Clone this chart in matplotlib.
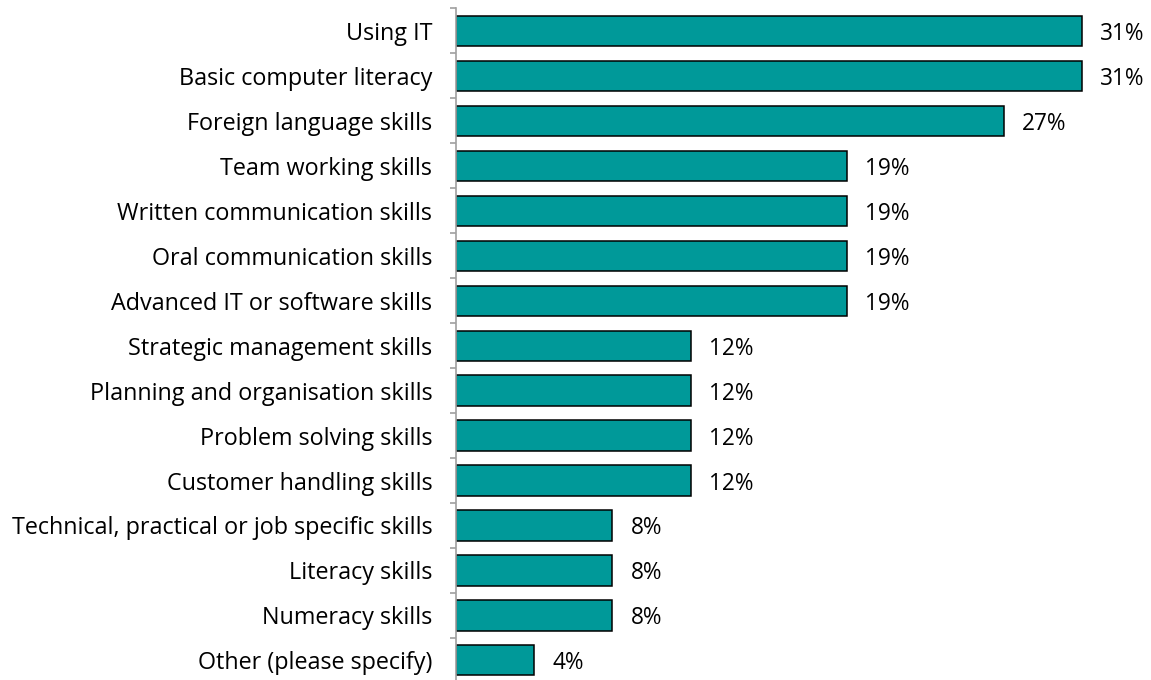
import matplotlib
matplotlib.use("Agg")
import matplotlib.pyplot as plt
import numpy as np

# Skills (top to bottom) and share of respondents, out of 26 answers
skills = [
    "Using IT",
    "Basic computer literacy",
    "Foreign language skills",
    "Team working skills",
    "Written communication skills",
    "Oral communication skills",
    "Advanced IT or software skills",
    "Strategic management skills",
    "Planning and organisation skills",
    "Problem solving skills",
    "Customer handling skills",
    "Technical, practical or job specific skills",
    "Literacy skills",
    "Numeracy skills",
    "Other (please specify)",
]
counts = [8, 8, 7, 5, 5, 5, 5, 3, 3, 3, 3, 2, 2, 2, 1]
total = 26
shares = [100 * c / total for c in counts]

plt.rcParams["font.family"] = ["Open Sans", "DejaVu Sans"]

fig = plt.figure(figsize=(11.51, 6.80), dpi=100)
ax = fig.add_axes([0.396, -0.0044, 0.604, 0.9926])

y = np.arange(len(skills))
ax.barh(y, shares, height=0.667, color="#009999", edgecolor="black", linewidth=1.1)

for yi, v in zip(y, shares):
    ax.annotate(f"{v:.0f}%", (v, yi), xytext=(13, 0), textcoords="offset points",
                va="center_baseline", ha="left", fontsize=16.3, color="black")

ax.set_xlim(0, 34.15)
ax.set_ylim(len(skills) - 0.5, -0.5)
ax.set_yticks(y)
ax.set_yticklabels(skills, fontsize=16.8, va="center_baseline")
ax.tick_params(axis="y", which="major", length=0, pad=17)
ax.set_yticks(np.arange(-0.5, len(skills), 1), minor=True)
ax.tick_params(axis="y", which="minor", length=4, width=1.2, color="#a0a0a0", direction="out")
ax.set_xticks([])

for side in ["top", "right", "bottom"]:
    ax.spines[side].set_visible(False)
ax.spines["left"].set_color("#a0a0a0")
ax.spines["left"].set_linewidth(1.2)

fig.savefig("out.png", dpi=100)
